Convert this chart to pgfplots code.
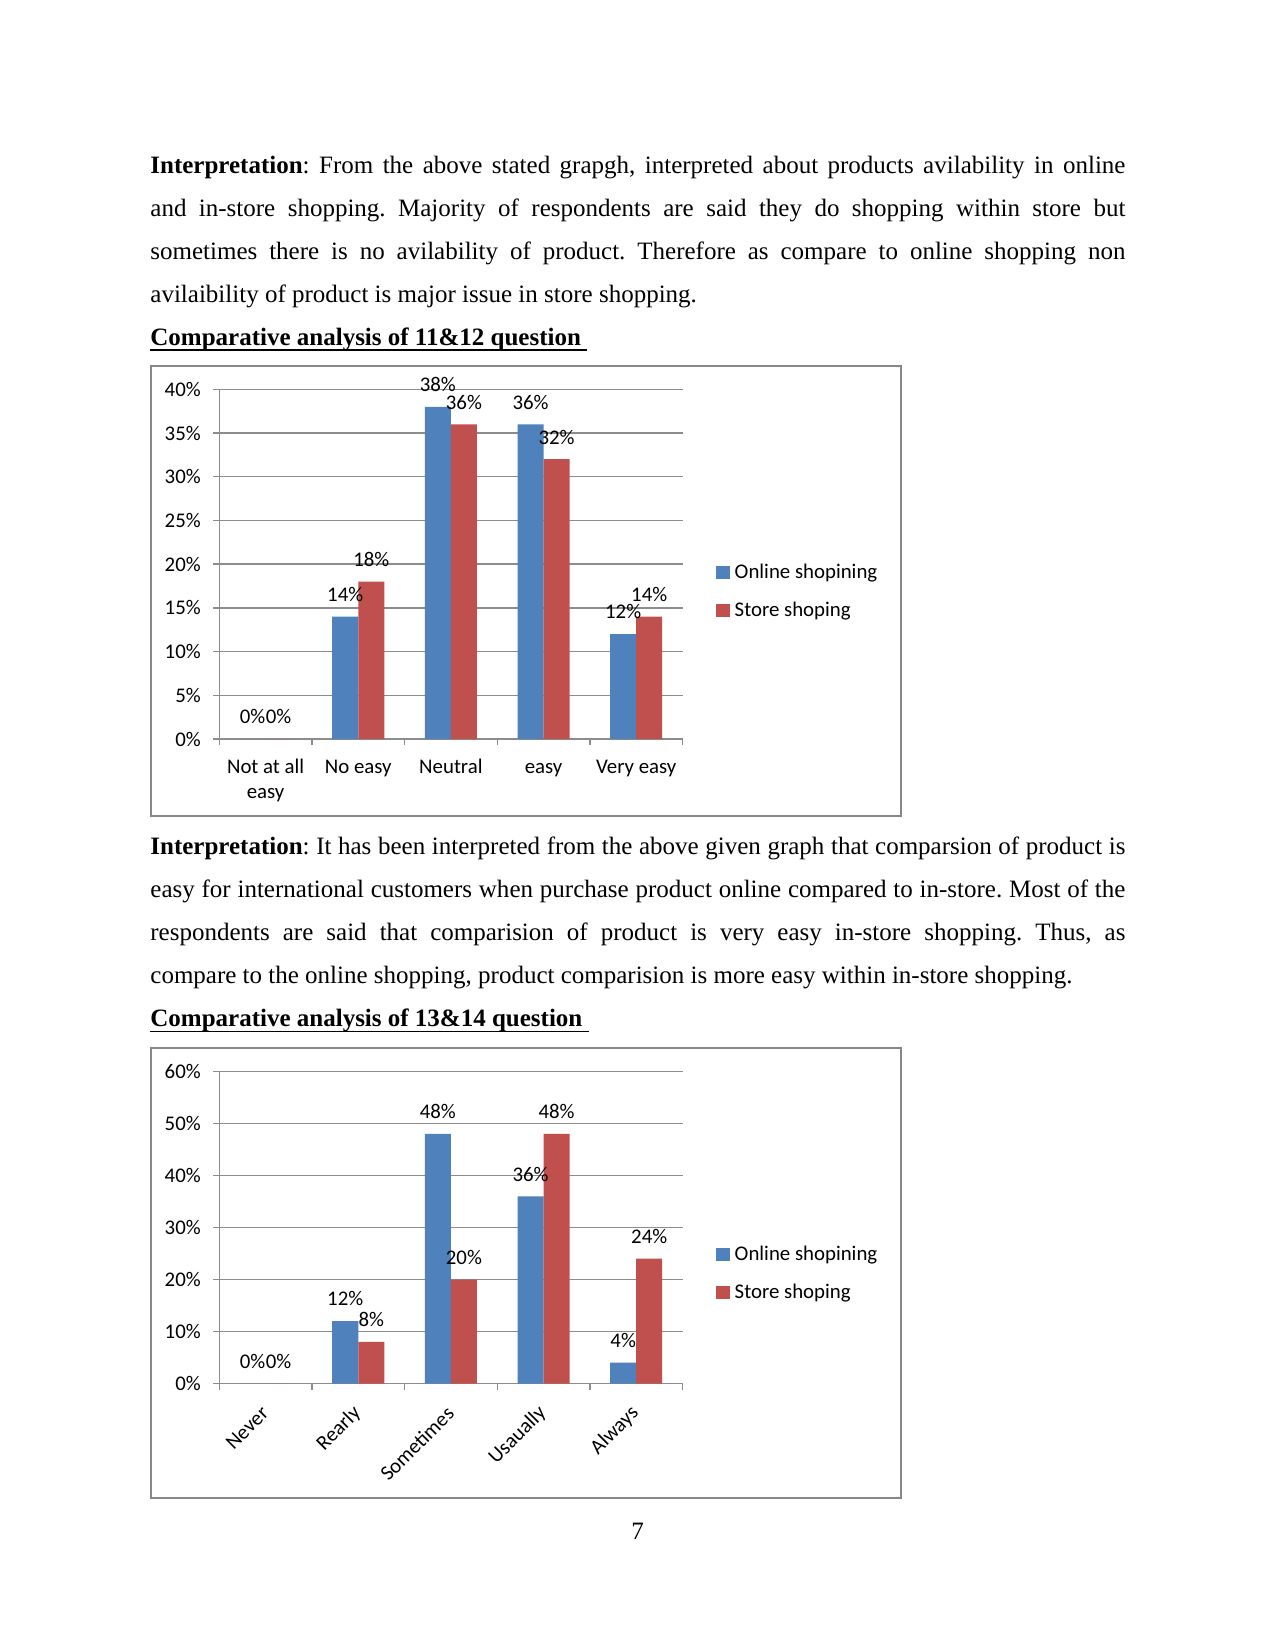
\documentclass[border=0pt]{standalone}
\usepackage{fontspec}
\setmainfont{Liberation Serif}
\newfontfamily\chartfont{Carlito}
\usepackage{pgfplots}
\pgfplotsset{compat=1.18}
\frenchspacing
\definecolor{xlblue}{HTML}{4F81BD}
\definecolor{xlred}{HTML}{C0504D}
\definecolor{gridgray}{HTML}{8C8C8C}
\definecolor{boxgray}{HTML}{878787}
\newcommand\cf{\chartfont\fontsize{10}{12}\selectfont}
\newcommand\ulbf[1]{\setbox0\hbox{\bfseries #1}\rlap{\rule[-2.6pt]{\wd0}{0.7pt}}\box0}

\pgfplotsset{xlbars/.style={
  ybar=0pt, bar width=12.5pt,
  scale only axis, width=222.34pt,
  xmin=-0.5, xmax=4.5, ymin=0,
  axis x line*=bottom, axis y line*=left,
  axis line style={draw=gridgray, line width=0.65pt},
  ymajorgrids, grid style={draw=gridgray, line width=0.65pt},
  tick align=outside, major tick length=3.1pt,
  tick style={draw=gridgray, line width=0.65pt},
  xtick={-0.5,0.5,...,4.5}, xticklabels={},
  extra x ticks={0,1,2,3,4},
  ticklabel style={font=\cf},
  yticklabel style={anchor=east, inner sep=0pt, xshift=-5.6pt},
  nodes near coords={\pgfmathprintnumber[assume math mode=true]{\pgfplotspointmeta}\%},
  every node near coord/.append style={font=\cf, inner sep=0pt, yshift=7pt},
  legend style={draw=none, fill=none, inner sep=0pt, font=\cf,
    row sep=9.8pt, column sep=2.5pt, nodes={inner sep=0pt}},
  legend cell align=left,
  legend image code/.code={\fill[##1] (0pt,-3.1pt) rectangle (6.3pt,3.1pt);},
}}

\begin{document}
\begin{tikzpicture}
\begin{scope}[x=0.48pt, y=-0.48pt, every node/.style={inner sep=0pt, font=\fontsize{12}{14}\selectfont}]
\useasboundingbox (0,0) rectangle (1275,1651);
\fill[white] (0,0) rectangle (1275,1651);
% first paragraph
\node[anchor=base west] at (150,173.3) {\makebox[468pt][s]{\textbf{Interpretation}: From the above stated grapgh, interpreted about products avilability in online}};
\node[anchor=base west] at (150,216.3) {\makebox[468pt][s]{and in-store shopping. Majority of respondents are said they do shopping within store but}};
\node[anchor=base west] at (150,259.3) {\makebox[468pt][s]{sometimes there is no avilability of product. Therefore as compare to online shopping non}};
\node[anchor=base west] at (150,302.3) {avilaibility of product is major issue in store shopping.};
\node[anchor=base west] at (150,345.4) {\ulbf{Comparative analysis of 11\&12 question }};
% second paragraph
\node[anchor=base west] at (150,854.5) {\makebox[468pt][s]{\textbf{Interpretation}: It has been interpreted from the above given graph that comparsion of product is}};
\node[anchor=base west] at (150,897.6) {\makebox[468pt][s]{easy for international customers when purchase product online compared to in-store. Most of the}};
\node[anchor=base west] at (150,940.7) {\makebox[468pt][s]{respondents are said that comparision of product is very easy in-store shopping. Thus, as}};
\node[anchor=base west] at (150,983.8) {compare to the online shopping, product comparision is more easy within in-store shopping.};
\node[anchor=base west] at (150,1026.6) {\ulbf{Comparative analysis of 13\&14 question }};
\node[anchor=base] at (637.5,1539.5) {7};
\end{scope}

% chart 1: questions 11 and 12
\begin{axis}[xlbars,
  at={(105.26pt,-354.72pt)}, anchor=south west, height=167.86pt,
  ymax=40, ytick={0,5,...,40},
  yticklabels={0\%,5\%,10\%,15\%,20\%,25\%,30\%,35\%,40\%},
  extra x tick labels={\strut Not at all\\easy,\strut No easy,\strut Neutral,\strut easy,\strut Very easy},
  extra x tick style={major tick length=0pt, xticklabel style={align=center, anchor=north, yshift=-4.5pt}},
  legend style={at={(axis description cs:1.0723,0.4211)}, anchor=west},
]
\addplot[fill=xlblue, draw=none] coordinates {(0,0) (1,14) (2,38) (3,36) (4,12)};
\addplot[fill=xlred, draw=none] coordinates {(0,0) (1,18) (2,36) (3,32) (4,14)};
\legend{Online shopining,Store shoping}
\end{axis}

% chart 2: questions 13 and 14
\begin{axis}[xlbars,
  at={(105.26pt,-664.08pt)}, anchor=south west, height=149.76pt,
  ymax=60, ytick={0,10,...,60},
  yticklabels={0\%,10\%,20\%,30\%,40\%,50\%,60\%},
  extra x tick labels={Never,Rearly,Sometimes,Usaually,Always},
  extra x tick style={major tick length=0pt, xticklabel style={xshift=2.2pt, yshift=-10.3pt, rotate=45, anchor=east}},
  legend style={at={(axis description cs:1.0723,0.3526)}, anchor=west},
]
\addplot[fill=xlblue, draw=none] coordinates {(0,0) (1,12) (2,48) (3,36) (4,4)};
\addplot[fill=xlred, draw=none] coordinates {(0,0) (1,8) (2,20) (3,48) (4,24)};
\legend{Online shopining,Store shoping}
\end{axis}

\begin{scope}[x=0.48pt, y=-0.48pt]
\draw[boxgray, line width=1pt] (150.7,365.7) rectangle (901,816);
\draw[boxgray, line width=1pt] (150.7,1047.7) rectangle (901,1498.3);
\end{scope}
\end{tikzpicture}
\end{document}
